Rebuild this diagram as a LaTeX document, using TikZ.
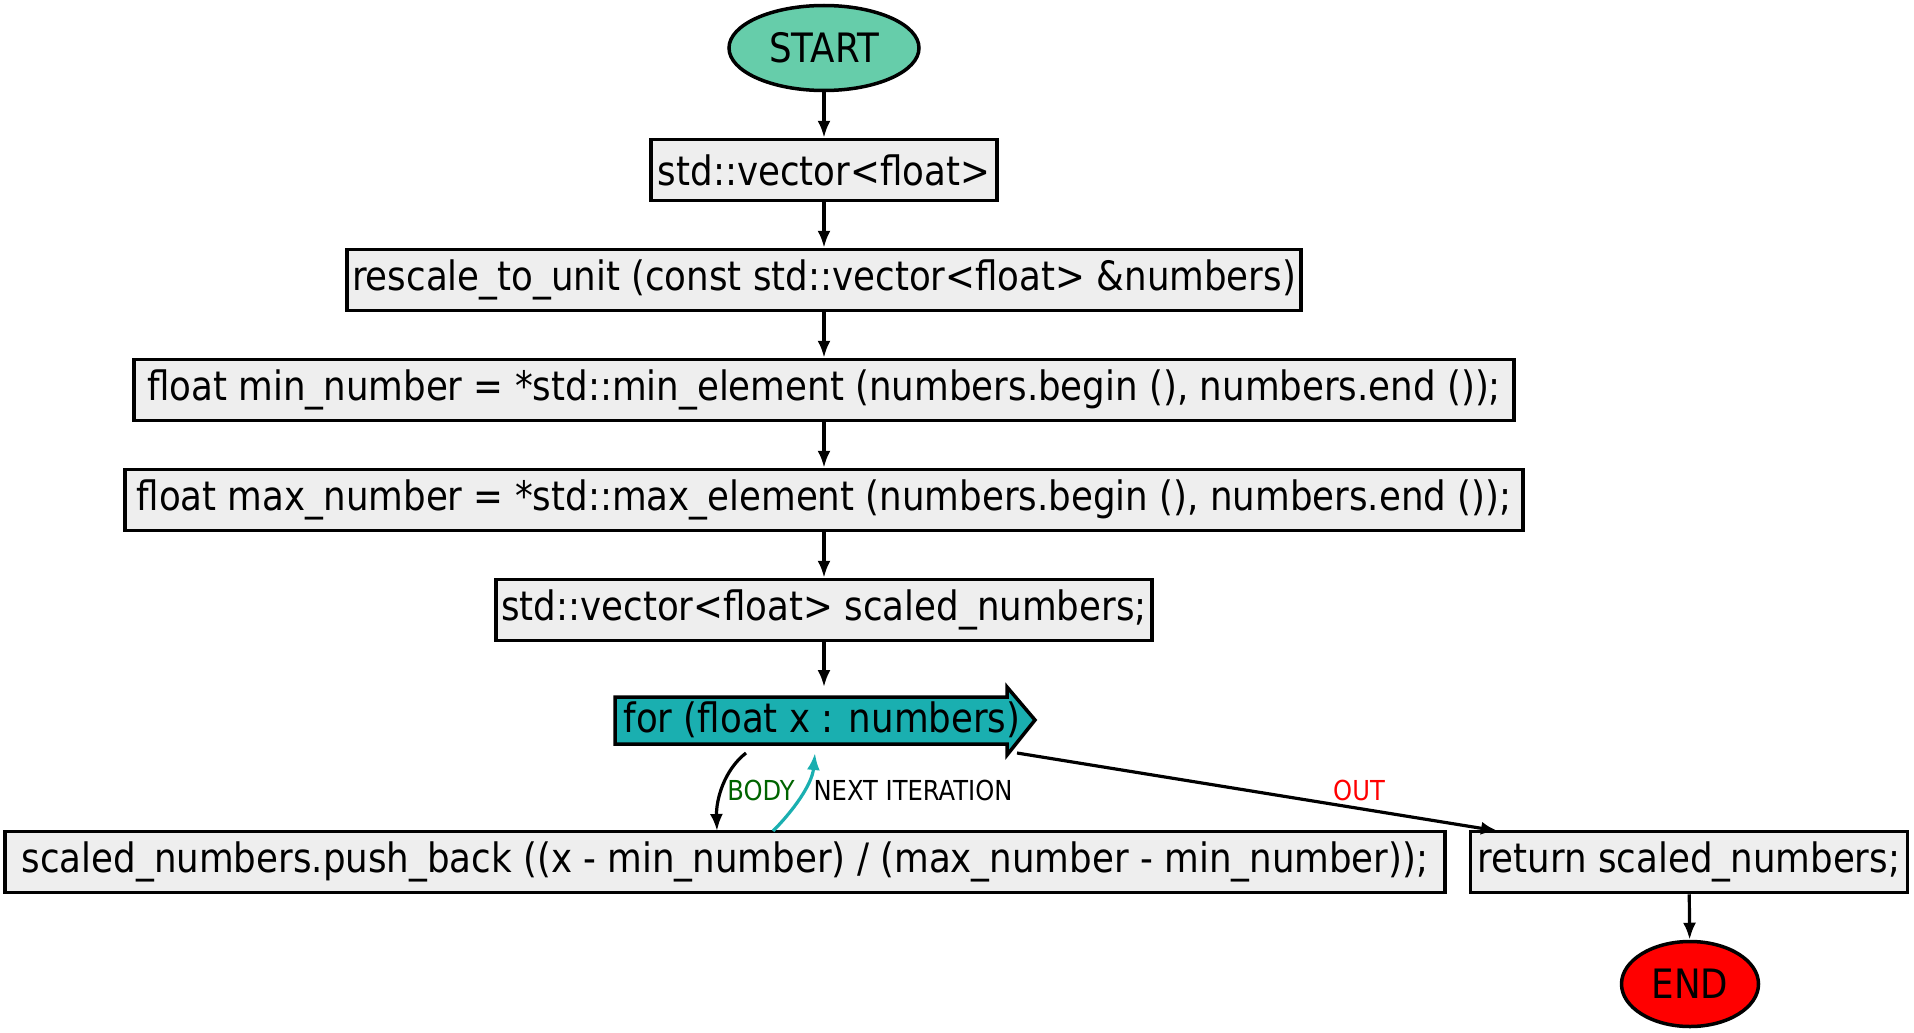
\documentclass[tikz,border=0pt]{standalone}
\usepackage{fontspec}
\setmainfont{DejaVu Sans}[FakeStretch=0.88]
\usetikzlibrary{arrows.meta,shapes.geometric}
\definecolor{boxfill}{HTML}{EEEEEE}
\definecolor{startfill}{HTML}{66CDAA}
\definecolor{forfill}{HTML}{1AAFB0}
\definecolor{endfill}{HTML}{FF0000}
\definecolor{bodygreen}{HTML}{006400}
\begin{document}
\begin{tikzpicture}[x=1pt,y=-1pt,
  every node/.style={font=\fontsize{40.5}{46}\selectfont},
  stmt/.style={draw=black, fill=boxfill, line width=3.5pt, rectangle, inner sep=0pt, minimum height=61pt},
  term/.style={draw=black, line width=3.5pt, ellipse, inner sep=0pt},
  flow/.style={line width=3.2pt, -{Latex[length=17pt,width=13pt]}},
  lbl/.style={font=\fontsize{27.5}{32}\selectfont, inner sep=0pt}]
\useasboundingbox (0,0) rectangle (1914,1033);
\node[term, fill=startfill, minimum width=190pt, minimum height=85pt] (start) at (824,48) {START};
\node[stmt, minimum width=346pt] (b1) at (824,170) {std::vector<float>};
\node[stmt, minimum width=954pt] (b2) at (824,280) {rescale\_to\_unit (const std::vector<float> \&numbers)};
\node[stmt, minimum width=1380pt] (b3) at (824,390) {float min\_number = *std::min\_element (numbers.begin (), numbers.end ());};
\node[stmt, minimum width=1398pt] (b4) at (824,500) {float max\_number = *std::max\_element (numbers.begin (), numbers.end ());};
\node[stmt, minimum width=656pt] (b5) at (824,610) {std::vector<float> scaled\_numbers;};
\draw[fill=forfill, line width=3.5pt, line join=miter]
  (615,697) -- (1007,697) -- (1007,687) -- (1035,720) -- (1007,755) -- (1007,744) -- (615,744) -- cycle;
\node[inner sep=0pt, minimum width=420pt, minimum height=58pt] (for) at (822,720) {for (float x : numbers)};
\node[stmt, minimum width=1440pt] (push) at (725,862) {scaled\_numbers.push\_back ((x - min\_number) / (max\_number - min\_number));};
\node[stmt, minimum width=437pt] (ret) at (1689,862) {return scaled\_numbers;};
\node[term, fill=endfill, minimum width=137pt, minimum height=85pt] (end) at (1690,984) {END};
\draw[flow] (start) -- (b1);
\draw[flow] (b1) -- (b2);
\draw[flow] (b2) -- (b3);
\draw[flow] (b3) -- (b4);
\draw[flow] (b4) -- (b5);
\coordinate (forTop) at (824,687);
\draw[flow] (b5) -- (forTop);
\draw[flow] (ret) -- (end);
\coordinate (bodyS) at (746,753);
\coordinate (bodyE) at (717,831);
\coordinate (nextS) at (773,831);
\coordinate (nextE) at (815,753);
\coordinate (outS) at (1017,753);
\coordinate (outE) at (1498,831);
\draw[flow] (bodyS) .. controls (724,770) and (716,800) .. (bodyE);
\draw[flow, draw=forfill, -{Latex[length=17pt,width=13pt,fill=forfill]}] (nextS) .. controls (792,812) and (812,785) .. (nextE);
\draw[flow] (outS) -- (outE);
\node[lbl, text=bodygreen] (lbody) at (761,790) {BODY};
\node[lbl, text=black] (lnext) at (913,790) {NEXT ITERATION};
\node[lbl, text=red] (lout) at (1359,790) {OUT};
\end{tikzpicture}
\end{document}
